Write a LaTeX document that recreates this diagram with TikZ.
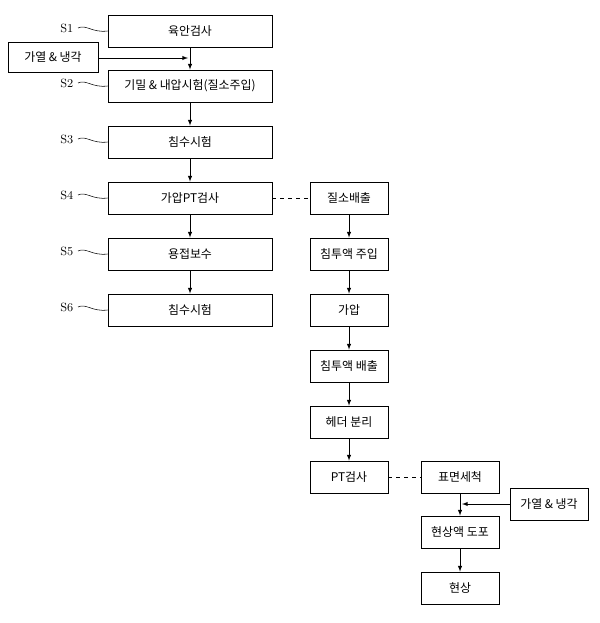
\documentclass[tikz,border=0pt]{standalone}
\usepackage{fontspec}
\newfontfamily\kr{Noto Sans CJK KR}
\usetikzlibrary{arrows,shapes,shadows}
\tikzset{
    stepbox/.style={draw=black, fill=white, line width=0.6pt, inner sep=0pt,
        font=\kr\small, drop shadow={shadow xshift=0.7pt, shadow yshift=-0.7pt, fill=black, opacity=1}},
    flow/.style={draw=black, line width=0.5pt, -latex},
    link/.style={draw=black, line width=0.5pt, dashed},
    slabel/.style={font=\small},
}
\begin{document}
\begin{tikzpicture}[x=0.0265cm, y=-0.0265cm]
	\useasboundingbox (0,0) rectangle (600,623);
%
	\node[stepbox, minimum width=164*0.0265cm, minimum height=32*0.0265cm] (s1) at (190,31) {육안검사};
	\node[stepbox, minimum width=164*0.0265cm, minimum height=32*0.0265cm] (s2) at (190,86) {기밀 \& 내압시험(질소주입)};
	\node[stepbox, minimum width=164*0.0265cm, minimum height=32*0.0265cm] (s3) at (190,142) {침수시험};
	\node[stepbox, minimum width=164*0.0265cm, minimum height=32*0.0265cm] (s4) at (190,198) {가압PT검사};
	\node[stepbox, minimum width=164*0.0265cm, minimum height=32*0.0265cm] (s5) at (190,254) {용접보수};
	\node[stepbox, minimum width=164*0.0265cm, minimum height=32*0.0265cm] (s6) at (190,310) {침수시험};
	\node[stepbox, minimum width=90*0.0265cm, minimum height=30*0.0265cm] (heatA) at (53,57) {가열 \& 냉각};
%
	\node[stepbox, minimum width=78*0.0265cm, minimum height=32*0.0265cm] (r1) at (349,198) {질소배출};
	\node[stepbox, minimum width=78*0.0265cm, minimum height=32*0.0265cm] (r2) at (349,254) {침투액 주입};
	\node[stepbox, minimum width=78*0.0265cm, minimum height=32*0.0265cm] (r3) at (349,310) {가압};
	\node[stepbox, minimum width=78*0.0265cm, minimum height=32*0.0265cm] (r4) at (349,366) {침투액 배출};
	\node[stepbox, minimum width=78*0.0265cm, minimum height=32*0.0265cm] (r5) at (349,422) {헤더 분리};
	\node[stepbox, minimum width=78*0.0265cm, minimum height=32*0.0265cm] (r6) at (349,477) {PT검사};
%
	\node[stepbox, minimum width=78*0.0265cm, minimum height=32*0.0265cm] (t1) at (460,477) {표면세척};
	\node[stepbox, minimum width=78*0.0265cm, minimum height=32*0.0265cm] (t2) at (460,532) {현상액 도포};
	\node[stepbox, minimum width=78*0.0265cm, minimum height=32*0.0265cm] (t3) at (460,588) {현상};
	\node[stepbox, minimum width=78*0.0265cm, minimum height=32*0.0265cm] (heatB) at (549,504) {가열 \& 냉각};
%
	\draw[flow] (s1) -- (s2);
	\draw[flow] (s2) -- (s3);
	\draw[flow] (s3) -- (s4);
	\draw[flow] (s4) -- (s5);
	\draw[flow] (s5) -- (s6);
	\draw[flow] (r1) -- (r2);
	\draw[flow] (r2) -- (r3);
	\draw[flow] (r3) -- (r4);
	\draw[flow] (r4) -- (r5);
	\draw[flow] (r5) -- (r6);
	\draw[flow] (t1) -- (t2);
	\draw[flow] (t2) -- (t3);
	\draw[flow] (heatA.east |- 0,58) -- (188,58);
	\draw[flow] (heatB.west) -- (462,504);
	\draw[link] (s4) -- (r1);
	\draw[link] (r6) -- (t1);
%
	\foreach \n/\y in {1/31,2/86,3/142,4/198,5/254,6/310}{
		\node[slabel, anchor=east] (lab\n) at (78,\y-3) {S\n};
		\draw[line width=0.4pt] (lab\n.east) .. controls (86,\y-7) and (92,\y+2) .. (s\n.west);
	}
\end{tikzpicture}
\end{document}
